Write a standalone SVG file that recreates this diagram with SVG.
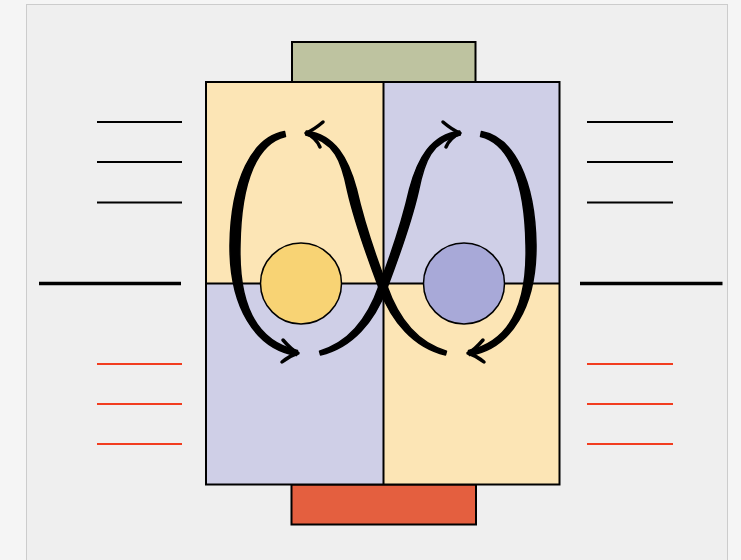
<svg xmlns="http://www.w3.org/2000/svg" width="741" height="560" viewBox="0 0 741 560">
  <style>
    .cell { stroke: none; }
    .warm { fill: #fce5b5; }
    .cool { fill: #cfcfe7; }
    .edge { fill: none; stroke: #000; stroke-width: 2; }
    .tick { stroke: #000; stroke-width: 2; }
    .axis { stroke: #000; stroke-width: 3.5; }
    .hot { stroke: #f23d1f; stroke-width: 2; }
    .stroke { fill: #000; stroke: #000; stroke-width: 1.5; stroke-linejoin: round; }
    .head { fill: none; stroke: #000; stroke-width: 3.5; stroke-linecap: round; stroke-linejoin: round; }
  </style>
  <defs>
    <!-- tapered brush stroke running from the lower right up to the upper-left arrow tip -->
    <g id="sweep">
      <path class="stroke" d="M446.5,351.1 C416.6,342.5 398.3,318.8 386.8,285.6 C375.7,256.6 364.3,223.7 356.4,189 C348.3,158.9 335.5,135 306.3,131 L305.7,135 C334.5,141 341.7,161.1 347.6,191 C355.7,226.3 368.3,259.4 379.2,288.4 C391.7,321.2 413.4,347.5 445.5,354.9 Z"/>
      <path class="head" d="M323,122 C316,128 311,131 306,133 C312,136 317,140 320,147"/>
    </g>
    <!-- bracket-shaped stroke on the outer side, arrow at the bottom -->
    <g id="bracket">
      <path class="stroke" d="M284.5,131.5 C252.3,137.1 231,179.9 230,245 C229.6,305.9 254.3,348.4 296.5,355.5 L297.5,350.5 C255.7,341.6 238.4,304.1 240,245 C241,180.1 257.7,142.9 285.5,136.5 Z"/>
      <path class="head" d="M283,340 C289,347 293,351 298,353 C292,355 287,358 282,362"/>
    </g>
  </defs>

  <!-- page and panel -->
  <rect x="0" y="0" width="741" height="560" fill="#f5f5f5"/>
  <rect x="26.5" y="4.5" width="701" height="570" fill="#efefef" stroke="#cccccc" stroke-width="1"/>

  <!-- side scales -->
  <g id="left-scale">
    <line class="tick" x1="97" y1="122" x2="182" y2="122"/>
    <line class="tick" x1="97" y1="162" x2="182" y2="162"/>
    <line class="tick" x1="97" y1="202.5" x2="182" y2="202.5"/>
    <line class="axis" x1="39" y1="283.5" x2="181" y2="283.5"/>
    <line class="hot" x1="97" y1="364" x2="182" y2="364"/>
    <line class="hot" x1="97" y1="404" x2="182" y2="404"/>
    <line class="hot" x1="97" y1="444" x2="182" y2="444"/>
  </g>
  <g id="right-scale">
    <line class="tick" x1="587" y1="122" x2="673" y2="122"/>
    <line class="tick" x1="587" y1="162" x2="673" y2="162"/>
    <line class="tick" x1="587" y1="202.5" x2="673" y2="202.5"/>
    <line class="axis" x1="580" y1="283.5" x2="722.5" y2="283.5"/>
    <line class="hot" x1="587" y1="364" x2="673" y2="364"/>
    <line class="hot" x1="587" y1="404" x2="673" y2="404"/>
    <line class="hot" x1="587" y1="444" x2="673" y2="444"/>
  </g>

  <!-- top and bottom plates -->
  <g id="top-plate">
    <rect x="292" y="42" width="183.5" height="40" fill="#bec3a0" stroke="#000" stroke-width="2"/>
  </g>
  <g id="bottom-plate">
    <rect x="291.5" y="484.5" width="184.5" height="40" fill="#e45f3f" stroke="#000" stroke-width="2"/>
  </g>

  <!-- four cells -->
  <g id="cells">
    <rect class="cell warm" x="206" y="82" width="177.5" height="201.5"/>
    <rect class="cell cool" x="383.5" y="82" width="176" height="201.5"/>
    <rect class="cell cool" x="206" y="283.5" width="177.5" height="201"/>
    <rect class="cell warm" x="383.5" y="283.5" width="176" height="201"/>
    <rect class="edge" x="206" y="82" width="353.5" height="402.5"/>
    <line class="edge" x1="383.5" y1="82" x2="383.5" y2="484.5"/>
    <line class="edge" x1="206" y1="283.5" x2="559.5" y2="283.5" stroke-width="1.5"/>
  </g>

  <!-- bodies -->
  <g id="left-body">
    <circle cx="301" cy="283.5" r="40.5" fill="#f8d374" stroke="#000" stroke-width="1.5"/>
  </g>
  <g id="right-body">
    <circle cx="464" cy="283.5" r="40.5" fill="#a8a9d8" stroke="#000" stroke-width="1.5"/>
  </g>

  <!-- circulation connectors -->
  <g id="connectors">
    <use href="#bracket"/>
    <use href="#sweep"/>
    <use href="#sweep" transform="translate(766,0) scale(-1,1)"/>
    <use href="#bracket" transform="translate(766,0) scale(-1,1)"/>
  </g>
</svg>
